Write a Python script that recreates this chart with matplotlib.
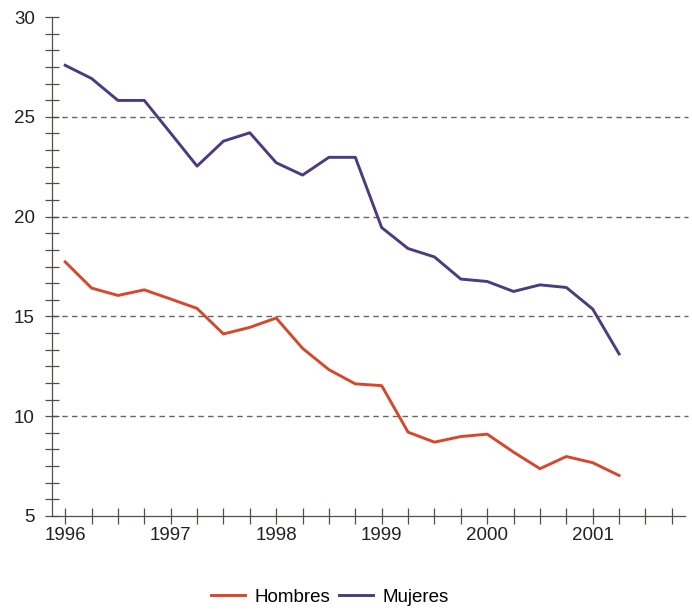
import numpy as np
import matplotlib
matplotlib.use("Agg")
import matplotlib.pyplot as plt
from matplotlib.ticker import FixedLocator

# quarterly values, 1996 Q1 .. 2001 Q2
quarters = 1996 + np.arange(22) * 0.25
hombres = [17.73, 16.42, 16.05, 16.33, 15.87, 15.40, 14.12, 14.45, 14.92, 13.40, 12.33,
           11.62, 11.53, 9.20, 8.70, 8.98, 9.10, 8.20, 7.37, 7.98, 7.67, 7.03]
mujeres = [27.58, 26.92, 25.82, 25.82, 24.18, 22.53, 23.78, 24.20, 22.70, 22.08, 22.97,
           22.97, 19.45, 18.40, 17.98, 16.87, 16.75, 16.25, 16.58, 16.45, 15.37, 13.12]
years = [1996, 1997, 1998, 1999, 2000, 2001]
y_labels = [5, 10, 15, 20, 25, 30]

col_h = "#d8472b"
col_m = "#4a3b82"
axis_col = "#5a4a4a"

plt.rcParams['font.family'] = ['Liberation Sans', 'DejaVu Sans']

fig = plt.figure(figsize=(6.92, 6.10), dpi=100)
ax = fig.add_axes([52 / 692, 1 - 516 / 610, 633 / 692, 499 / 610])

for v in [10, 15, 20, 25]:
    ax.plot([1995.875, 2001.9], [v, v], color="#666666", lw=1.0,
            dashes=(4, 3), clip_on=False, zorder=1)

ax.plot(quarters, hombres, color=col_h, lw=2.1, label="Hombres", zorder=3)
ax.plot(quarters, mujeres, color=col_m, lw=2.1, label="Mujeres", zorder=3)

ax.set_xlim(1995.875, 2001.875)
ax.set_ylim(5, 30)

for s in ["top", "right"]:
    ax.spines[s].set_visible(False)
for s in ["left", "bottom"]:
    ax.spines[s].set_color(axis_col)
    ax.spines[s].set_linewidth(0.9)

ax.xaxis.set_major_locator(FixedLocator(years))
ax.xaxis.set_minor_locator(FixedLocator(1996 + np.arange(24) * 0.25))
ax.set_xticklabels([str(y) for y in years])
ax.yaxis.set_major_locator(FixedLocator(y_labels))
ax.yaxis.set_minor_locator(FixedLocator(5 + np.arange(31) * 5 / 6))
ax.set_yticklabels([str(v) for v in y_labels])

ax.tick_params(axis="both", which="both", direction="inout", color=axis_col,
               width=0.9, labelsize=13.5, labelcolor="#222222")
ax.tick_params(axis="x", which="both", length=11.5, pad=2)
ax.tick_params(axis="y", which="both", length=9.5, pad=7.5)

fig.legend(loc="center", bbox_to_anchor=(330 / 692, 1 - 597 / 610), ncol=2,
           frameon=False, fontsize=13.5, handlelength=1.8, handletextpad=0.5,
           columnspacing=0.5)

fig.savefig("out.png", dpi=100)
